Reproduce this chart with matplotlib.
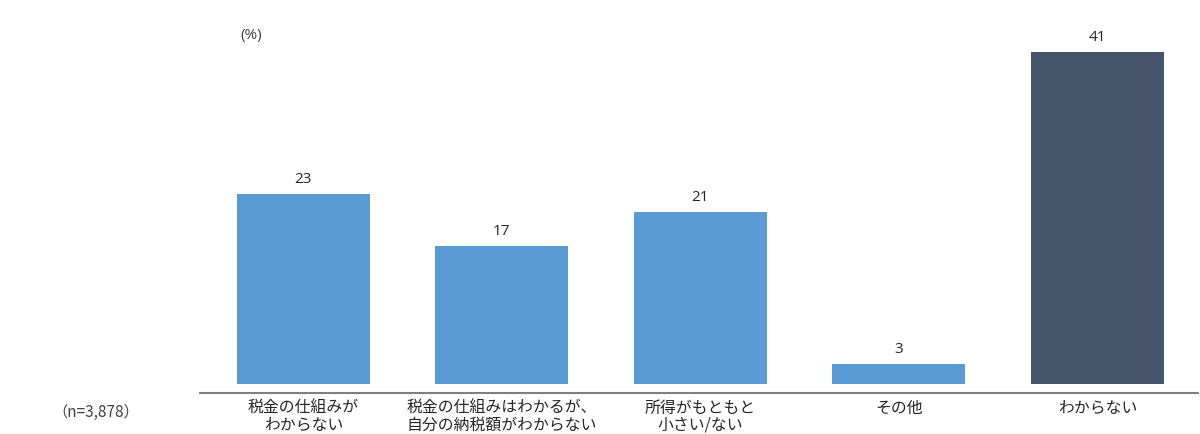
import matplotlib
matplotlib.use("Agg")
import matplotlib.pyplot as plt

plt.rcParams['font.family'] = ['Noto Sans CJK JP', 'DejaVu Sans']

categories = ["税金の仕組みが\nわからない",
              "税金の仕組みはわかるが、\n自分の納税額がわからない",
              "所得がもともと\n小さい/ない",
              "その他",
              "わからない"]
values = [23.4, 17.0, 21.2, 2.5, 40.8]
value_labels = ["23", "17", "21", "3", "41"]
bar_colors = ["#5B9BD5", "#5B9BD5", "#5B9BD5", "#5B9BD5", "#44546A"]

fig = plt.figure(figsize=(12, 4.34), dpi=100)
ax = fig.add_axes([200/1200, 41/434, 998/1200, 373/434])

x = range(len(values))
bars = ax.bar(x, values, width=0.67, color=bar_colors)

for b, v, lab in zip(bars, values, value_labels):
    ax.annotate(lab, (b.get_x() + b.get_width()/2, v), xytext=(0, 8),
                textcoords='offset points', ha='center', va='baseline',
                fontsize=11, color='#262626', family=['Open Sans', 'DejaVu Sans'])

ax.set_xlim(-0.521, 4.507)
ax.set_ylim(-1.107, 44.77)

for s in ['top', 'right', 'left']:
    ax.spines[s].set_visible(False)
ax.spines['bottom'].set_color('#7f7f7f')
ax.spines['bottom'].set_linewidth(1.5)
ax.set_yticks([])
ax.set_xticks(list(x))
ax.set_xticklabels(categories, fontsize=11.4, color='#262626', linespacing=1.0)
ax.tick_params(axis='x', length=0, pad=5)

fig.text(240/1200, 1 - 35/434, "(%)", fontsize=11, color='#404040',
         ha='left', va='center', family=['Open Sans', 'DejaVu Sans'])
fig.text(52/1200, 1 - 412/434, "（n=3,878）", fontsize=11, color='#404040',
         ha='left', va='center')

fig.savefig("out.png", dpi=100)
